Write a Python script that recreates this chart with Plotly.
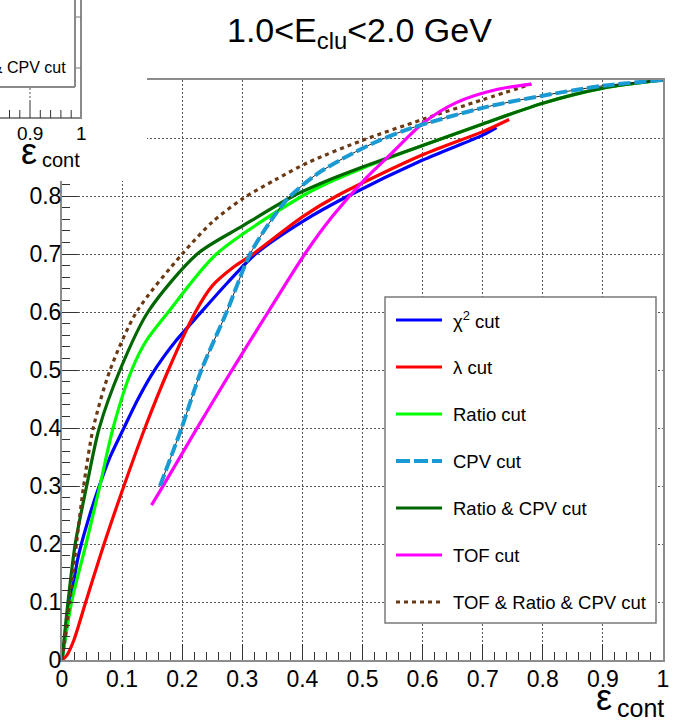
import plotly.graph_objects as go

W, H = 674, 721

# ---------------- data ----------------
names = ["χ<sup>2</sup> cut", "λ cut", "Ratio cut", "CPV cut", "Ratio &amp; CPV cut", "TOF cut", "TOF &amp; Ratio &amp; CPV cut"]
colors = ["#0000ff", "#ff0000", "#00ff00", "#1a9ad4", "#006600", "#ff00ff", "#6b3a14"]
dashes = ["solid", "solid", "solid", "12px,4px", "solid", "solid", "4px,4px"]

chi2_x = [0, 0.008, 0.027, 0.047, 0.062, 0.08, 0.103, 0.125, 0.148, 0.17, 0.19, 0.23, 0.275, 0.322, 0.4, 0.476, 0.6, 0.7, 0.723]
chi2_y = [0, 0.057, 0.178, 0.253, 0.3, 0.35, 0.4, 0.447, 0.49, 0.524, 0.551, 0.598, 0.65, 0.7, 0.756, 0.8, 0.862, 0.905, 0.918]

lam_x = [0, 0.008, 0.02, 0.038, 0.07, 0.103, 0.138, 0.177, 0.222, 0.25, 0.285, 0.318, 0.4, 0.457, 0.6, 0.7, 0.744]
lam_y = [0, 0.008, 0.035, 0.095, 0.2, 0.3, 0.4, 0.5, 0.6, 0.645, 0.677, 0.7, 0.764, 0.8, 0.871, 0.911, 0.932]

ratio_x = [0, 0.016, 0.04, 0.063, 0.085, 0.116, 0.14, 0.177, 0.257, 0.4, 0.45, 0.5, 0.6, 0.7, 0.8, 0.9, 1.0]
ratio_y = [0, 0.1, 0.2, 0.3, 0.4, 0.5, 0.55, 0.6, 0.7, 0.8, 0.826, 0.848, 0.887, 0.924, 0.96, 0.986, 1.0]

cpv_x = [0.163, 0.199, 0.232, 0.274, 0.313, 0.352, 0.377, 0.423, 0.468, 0.524, 0.581, 0.7, 0.8, 0.9, 1.0]
cpv_y = [0.3, 0.4, 0.5, 0.6, 0.7, 0.764, 0.797, 0.837, 0.865, 0.894, 0.917, 0.952, 0.973, 0.99, 1.0]

rcpv_x = [0, 0.01, 0.022, 0.041, 0.062, 0.0965, 0.143, 0.225, 0.3, 0.385, 0.45, 0.5, 0.6, 0.7, 0.8, 0.9, 1.0]
rcpv_y = [0, 0.1, 0.2, 0.3, 0.4, 0.5, 0.6, 0.7, 0.748, 0.8, 0.83, 0.85, 0.887, 0.924, 0.96, 0.986, 1.0]

tof_x = [0.149, 0.167, 0.222, 0.28, 0.343, 0.404, 0.45, 0.505, 0.55, 0.6, 0.656, 0.725, 0.781]
tof_y = [0.267, 0.298, 0.395, 0.495, 0.6, 0.7, 0.765, 0.83, 0.875, 0.925, 0.961, 0.984, 0.993]

all_x = [0, 0.013, 0.024, 0.036, 0.052, 0.08, 0.124, 0.2, 0.25, 0.3, 0.355, 0.41, 0.5, 0.6, 0.7, 0.781]
all_y = [0, 0.1, 0.2, 0.3, 0.4, 0.5, 0.6, 0.7, 0.755, 0.795, 0.828, 0.858, 0.896, 0.932, 0.966, 0.993]

series_x = [chi2_x, lam_x, ratio_x, cpv_x, rcpv_x, tof_x, all_x]
series_y = [chi2_y, lam_y, ratio_y, cpv_y, rcpv_y, tof_y, all_y]

tick_vals = [0, 0.1, 0.2, 0.3, 0.4, 0.5, 0.6, 0.7, 0.8, 0.9, 1.0]
tick_text = ["0", "0.1", "0.2", "0.3", "0.4", "0.5", "0.6", "0.7", "0.8", "0.9", "1"]

title_text = "1.0&lt;E<sub>clu</sub>&lt;2.0 GeV"

# ---------------- helpers ----------------
FONT = "Liberation Sans, Arial, Helvetica, sans-serif"


def px(xp):
    return xp / W


def py(yp):
    return 1 - yp / H


fig = go.Figure()

order = [0, 1, 2, 4, 6, 5, 3]
for i in order:
    if i == 3:
        fig.add_trace(go.Scatter(x=series_x[i], y=series_y[i], mode="lines",
                                 line=dict(color="#222222", width=1, shape="spline", smoothing=0.8),
                                 showlegend=False, hoverinfo="skip"))
    fig.add_trace(go.Scatter(x=series_x[i], y=series_y[i], mode="lines", name=names[i],
                             line=dict(color=colors[i], width=3.2 if i != 3 else 4, dash=dashes[i],
                                       shape="spline", smoothing=0.8),
                             showlegend=False))

axis_common = dict(
    range=[0, 1], tickvals=tick_vals, ticktext=tick_text,
    ticks="inside", ticklen=16, tickwidth=1, tickcolor="#333333",
    minor=dict(dtick=0.02, tick0=0, ticks="inside", ticklen=8, tickwidth=1, tickcolor="#333333",
               showgrid=False),
    showgrid=True, gridcolor="#555555", gridwidth=1, griddash="2px,2px",
    showline=True, linecolor="#8c8c8c", linewidth=2, mirror=True,
    zeroline=False, tickfont=dict(family=FONT, size=23, color="black"),
    fixedrange=True, automargin=False,
)

fig.update_layout(
    template="none",
    width=W, height=H, margin=dict(l=0, r=0, t=0, b=0, pad=0),
    paper_bgcolor="white", plot_bgcolor="white", showlegend=False,
    xaxis=dict(domain=[px(62), px(663)], ticklabelstandoff=-3, **axis_common),
    yaxis=dict(domain=[py(660), py(80)], ticklabelstandoff=-6, **axis_common),
)

shapes = []
ann = []

# title
ann.append(dict(text=title_text, x=px(359), y=py(33), xref="paper", yref="paper",
                showarrow=False, xanchor="center", yanchor="middle",
                font=dict(family=FONT, size=34, color="black")))

# main x-axis title
ann.append(dict(text="ε", x=px(604), y=py(697), xref="paper", yref="paper", showarrow=False,
                xanchor="center", yanchor="middle", font=dict(family=FONT, size=36, color="black")))
ann.append(dict(text="cont", x=px(666), y=py(708), xref="paper", yref="paper", showarrow=False,
                xanchor="right", yanchor="middle", font=dict(family=FONT, size=25, color="black")))

# legend box (manual)
shapes.append(dict(type="rect", xref="paper", yref="paper", x0=px(385), x1=px(656), y0=py(623), y1=py(297),
                   fillcolor="white", line=dict(color="#7a7a7a", width=1.5), layer="above"))
for k in range(7):
    yc = 320 + 47 * k
    shapes.append(dict(type="line", xref="paper", yref="paper", x0=px(396), x1=px(442), y0=py(yc), y1=py(yc),
                       line=dict(color=colors[k], width=3 if k != 3 else 4, dash=dashes[k].replace("12px", "14px")),
                       layer="above"))
    ann.append(dict(text=names[k], x=px(451), y=py(yc), xref="paper", yref="paper", showarrow=False,
                    xanchor="left", yanchor="middle", font=dict(family=FONT, size=18.5, color="black")))

# overlapping fragment of another pad (top-left)
shapes.append(dict(type="rect", xref="paper", yref="paper", x0=px(-5), x1=px(147), y0=py(181), y1=py(-5),
                   fillcolor="white", line=dict(width=0), layer="above"))
gray = "#8a8a8a"
shapes.append(dict(type="line", xref="paper", yref="paper", x0=px(81), x1=px(81), y0=py(-2), y1=py(118),
                   line=dict(color=gray, width=2), layer="above"))
shapes.append(dict(type="line", xref="paper", yref="paper", x0=px(-2), x1=px(82), y0=py(118), y1=py(118),
                   line=dict(color=gray, width=2), layer="above"))
shapes.append(dict(type="line", xref="paper", yref="paper", x0=px(75), x1=px(75), y0=py(-2), y1=py(87),
                   line=dict(color=gray, width=2), layer="above"))
shapes.append(dict(type="line", xref="paper", yref="paper", x0=px(-2), x1=px(75), y0=py(87), y1=py(87),
                   line=dict(color=gray, width=2), layer="above"))
shapes.append(dict(type="line", xref="paper", yref="paper", x0=px(30), x1=px(30), y0=py(88), y1=py(101),
                   line=dict(color="#555555", width=1, dash="2px,2px"), layer="above"))
shapes.append(dict(type="line", xref="paper", yref="paper", x0=px(30), x1=px(30), y0=py(101), y1=py(118),
                   line=dict(color="#333333", width=1), layer="above"))
for xm in [9.5, 19.8, 40.3, 50.6, 60.9, 71.2]:
    shapes.append(dict(type="line", xref="paper", yref="paper", x0=px(xm), x1=px(xm), y0=py(110), y1=py(118),
                       line=dict(color="#333333", width=1), layer="above"))
for ym in [17, 68]:
    shapes.append(dict(type="line", xref="paper", yref="paper", x0=px(76), x1=px(81), y0=py(ym), y1=py(ym),
                       line=dict(color="#777777", width=1), layer="above"))
ann.append(dict(text="Ratio &amp; CPV cut", x=px(68), y=py(68), xref="paper", yref="paper", showarrow=False,
                xanchor="right", yanchor="middle", font=dict(family=FONT, size=16, color="black")))
ann.append(dict(text="0.9", x=px(30), y=py(133), xref="paper", yref="paper", showarrow=False,
                xanchor="center", yanchor="middle", font=dict(family=FONT, size=19, color="black")))
ann.append(dict(text="1", x=px(81), y=py(133), xref="paper", yref="paper", showarrow=False,
                xanchor="center", yanchor="middle", font=dict(family=FONT, size=19, color="black")))
ann.append(dict(text="ε", x=px(29), y=py(151), xref="paper", yref="paper", showarrow=False,
                xanchor="center", yanchor="middle", font=dict(family=FONT, size=36, color="black")))
ann.append(dict(text="cont", x=px(40), y=py(160), xref="paper", yref="paper", showarrow=False,
                xanchor="left", yanchor="middle", font=dict(family=FONT, size=20, color="black")))

fig.update_layout(shapes=shapes, annotations=ann)

fig.write_html("out.html", config=dict(displayModeBar=False, staticPlot=True))
